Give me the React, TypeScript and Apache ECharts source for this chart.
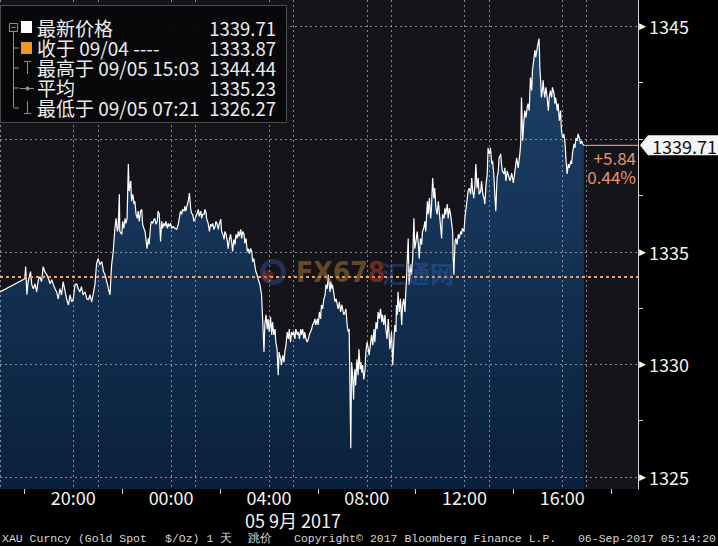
import React, { useEffect, useRef } from "react";
import * as echarts from "echarts";

// [minutes relative to 05 Sep 00:00, price]
const goldTicks: [number, number][] = [
[-420,1333.21],[-359,1333.79],[-357,1334.33],[-354,1333.08],[-351,1333.66],[-345,1334.11],[-342,1333.53],[-338,1333.35],[-334,1333.57],[-330,1333.21],
[-326,1333.75],[-322,1333.88],[-318,1333.66],[-314,1334.33],[-310,1334.11],[-305,1333.97],[-301,1333.79],[-297,1333.57],[-293,1333.75],[-289,1333.53],
[-285,1333.35],[-281,1333.21],[-277,1332.90],[-273,1333.35],[-269,1333.08],[-265,1333.66],[-260,1333.21],[-256,1332.86],[-252,1332.63],[-248,1333.08],
[-244,1332.77],[-240,1332.90],[-236,1333.53],[-232,1333.57],[-228,1333.35],[-224,1333.21],[-220,1333.44],[-216,1333.08],[-211,1333.21],[-207,1332.90],
[-203,1332.86],[-199,1333.08],[-195,1332.77],[-191,1333.13],[-187,1333.53],[-183,1334.46],[-179,1334.69],[-175,1334.42],[-170,1334.55],[-166,1334.11],
[-162,1333.97],[-158,1333.66],[-154,1333.35],[-150,1333.08],[-146,1334.42],[-142,1335.00],[-138,1336.03],[-135,1336.47],[-132,1335.89],[-130,1336.03],
[-127,1337.54],[-126,1335.89],[-121,1335.76],[-119,1336.34],[-116,1336.03],[-113,1336.47],[-111,1336.25],[-108,1336.47],[-105,1338.88],[-103,1337.68],
[-99,1338.13],[-97,1337.23],[-94,1337.54],[-91,1337.10],[-89,1337.23],[-86,1336.65],[-83,1336.47],[-81,1336.79],[-78,1336.34],[-75,1336.79],
[-72,1336.87],[-70,1336.21],[-67,1336.03],[-64,1335.89],[-62,1335.58],[-59,1335.13],[-56,1335.58],[-54,1335.31],[-50,1336.21],[-48,1336.34],
[-45,1336.25],[-42,1336.43],[-40,1336.47],[-37,1336.21],[-34,1336.34],[-32,1336.79],[-29,1336.65],[-26,1335.45],[-23,1336.34],[-21,1336.03],
[-18,1336.25],[-15,1336.12],[-13,1336.34],[-9,1336.03],[-7,1336.25],[-5,1336.12],[-1,1336.25],[1,1336.03],[5,1336.12],[9,1336.03],
[14,1335.98],[18,1336.25],[20,1336.47],[23,1336.79],[26,1336.65],[28,1336.87],[32,1336.79],[34,1337.01],[36,1336.79],[40,1337.10],
[42,1337.23],[45,1337.59],[48,1336.92],[50,1336.70],[53,1336.65],[56,1336.34],[59,1336.47],[61,1336.56],[64,1336.70],[67,1336.87],
[69,1336.56],[73,1336.79],[75,1336.47],[77,1336.65],[81,1336.65],[83,1336.87],[86,1336.70],[87,1336.47],[91,1336.25],[94,1335.89],
[97,1336.21],[100,1336.12],[102,1336.25],[105,1335.98],[108,1336.12],[110,1336.34],[113,1336.21],[116,1335.98],[118,1336.21],[122,1336.43],
[124,1335.89],[127,1335.76],[130,1335.54],[132,1335.89],[135,1335.76],[138,1335.45],[140,1335.13],[143,1335.54],[146,1335.76],[149,1335.36],
[151,1335.00],[154,1335.54],[157,1335.31],[159,1335.76],[162,1335.58],[165,1335.89],[167,1335.67],[171,1335.98],[173,1335.58],[176,1335.89],
[179,1335.76],[181,1335.36],[184,1335.58],[187,1335.00],[189,1335.13],[192,1334.91],[195,1335.13],[198,1335.00],[200,1334.55],[203,1334.69],
[206,1334.33],[208,1334.11],[211,1333.97],[214,1333.75],[218,1333.53],[222,1333.08],[226,1331.43],[228,1330.54],[230,1331.74],[233,1332.19],
[236,1331.56],[238,1332.01],[241,1331.43],[244,1332.10],[247,1331.30],[249,1331.87],[252,1331.30],[255,1331.56],[257,1330.98],[260,1330.67],
[263,1329.51],[265,1330.54],[269,1330.22],[271,1329.96],[274,1330.40],[277,1330.09],[279,1330.54],[282,1330.85],[285,1331.43],[288,1331.12],
[290,1331.56],[293,1330.98],[296,1331.43],[298,1331.30],[301,1331.43],[304,1331.12],[306,1331.56],[310,1331.30],[312,1331.43],[315,1331.12],
[318,1331.56],[320,1331.30],[323,1331.56],[326,1331.12],[328,1331.43],[331,1331.12],[334,1330.98],[337,1331.12],[339,1331.30],[342,1331.43],
[345,1331.56],[347,1331.74],[351,1331.87],[353,1332.01],[355,1331.74],[359,1332.01],[361,1331.74],[364,1332.32],[367,1332.01],[369,1332.63],
[372,1332.46],[375,1332.90],[378,1333.08],[380,1333.53],[383,1333.35],[386,1333.97],[388,1333.53],[390,1333.21],[392,1333.66],[394,1333.35],
[396,1333.53],[400,1333.08],[402,1332.77],[405,1332.90],[408,1332.63],[410,1332.46],[413,1332.77],[416,1332.32],[419,1332.63],[421,1332.46],
[424,1332.19],[427,1332.32],[429,1332.46],[432,1331.74],[435,1331.43],[437,1331.56],[441,1326.27],[443,1330.09],[445,1329.64],[448,1328.44],
[449,1329.20],[451,1329.78],[453,1329.06],[456,1330.22],[459,1329.51],[461,1330.67],[464,1329.78],[466,1330.09],[468,1329.64],[470,1329.96],
[473,1329.33],[476,1329.78],[478,1330.54],[481,1330.98],[484,1330.67],[486,1330.40],[490,1330.98],[492,1331.30],[495,1330.85],[498,1331.56],
[500,1330.98],[503,1331.87],[506,1331.56],[508,1332.32],[511,1332.01],[514,1332.46],[517,1331.87],[519,1332.19],[522,1331.74],[525,1332.19],
[527,1331.56],[530,1331.12],[533,1332.01],[537,1330.67],[541,1331.43],[544,1329.96],[547,1331.12],[549,1331.74],[552,1331.43],[553,1332.63],
[555,1332.19],[557,1333.21],[560,1332.32],[563,1332.90],[566,1331.74],[568,1332.63],[571,1332.90],[574,1332.32],[576,1333.21],[578,1333.80],
[579,1334.42],[582,1335.58],[584,1333.53],[588,1334.42],[590,1333.97],[593,1334.69],[596,1336.47],[598,1335.13],[601,1335.45],[604,1335.89],
[607,1335.31],[609,1334.69],[612,1335.58],[615,1335.31],[617,1335.89],[620,1336.03],[623,1336.34],[625,1335.89],[629,1337.23],[631,1336.65],
[634,1337.37],[637,1336.47],[639,1336.92],[642,1338.26],[645,1337.37],[647,1337.81],[650,1336.92],[653,1336.65],[656,1337.23],[658,1336.79],
[661,1336.21],[664,1335.58],[666,1336.65],[670,1336.47],[672,1336.92],[674,1336.65],[678,1337.10],[680,1336.47],[683,1336.92],[686,1336.65],
[688,1336.34],[691,1335.89],[692,1334.87],[694,1333.97],[697,1335.45],[699,1335.58],[702,1335.31],[705,1335.76],[707,1335.58],[711,1335.89],
[713,1335.76],[715,1336.03],[719,1335.89],[721,1336.47],[724,1336.92],[727,1337.37],[729,1337.68],[732,1337.81],[735,1337.54],[738,1338.26],
[740,1337.68],[743,1337.37],[746,1337.99],[748,1338.88],[751,1337.81],[754,1338.26],[756,1337.54],[760,1337.68],[762,1338.13],[765,1337.54],
[768,1337.37],[770,1337.10],[773,1337.99],[776,1338.44],[778,1339.60],[781,1339.33],[784,1339.60],[787,1338.88],[789,1339.02],[792,1338.44],
[795,1337.37],[797,1336.79],[800,1338.26],[803,1338.57],[805,1339.15],[809,1339.33],[811,1338.88],[813,1338.57],[817,1338.44],[819,1338.71],
[822,1338.13],[825,1338.57],[827,1338.44],[832,1338.13],[836,1338.48],[840,1338.04],[844,1338.57],[848,1339.15],[852,1338.71],[856,1339.33],
[858,1339.78],[860,1341.83],[863,1339.91],[866,1340.80],[868,1341.25],[871,1340.94],[874,1341.38],[876,1341.56],[879,1341.25],[882,1342.72],
[885,1342.14],[887,1343.04],[890,1343.48],[893,1343.93],[895,1343.62],[899,1344.06],[903,1344.44],[904,1343.93],[905,1343.17],[907,1342.59],
[909,1341.83],[912,1342.28],[913,1342.59],[915,1342.14],[917,1341.83],[920,1342.28],[923,1341.83],[926,1341.25],[928,1341.83],[931,1342.14],
[934,1341.83],[936,1342.28],[940,1342.01],[942,1341.56],[944,1341.83],[948,1341.25],[950,1341.56],[953,1340.80],[956,1341.25],[958,1340.36],
[961,1340.04],[964,1340.22],[967,1339.78],[969,1339.15],[972,1338.44],[975,1338.88],[977,1338.71],[981,1339.02],[983,1338.88],[985,1339.33],
[989,1339.78],[991,1339.60],[994,1340.04],[997,1339.91],[999,1340.22],[1002,1340.04],[1005,1339.78],[1008,1339.91],[1010,1339.78],[1013,1339.71]
];

const prevClose = 1333.87;
const legendLabels = ["最新价格", "收于 09/04 ----", "最高于 09/05 15:03", "平均", "最低于 09/05 07:21"];
const legendValues = ["1339.71", "1333.87", "1344.44", "1335.23", "1326.27"];
const xLabelMinutes = [-240, 0, 240, 480, 720, 960];
const xGridMinutes = [-240, 0, 240, 480, 720, 960];
const xTickMinutes = [-360, -120, 120, 360, 600, 840, 1080];
const yGridValues = [1325, 1330, 1335, 1340, 1345];
const yLabelValues = [1325, 1330, 1335, 1345];
const yTickValues = [1327.5, 1332.5, 1337.5, 1340, 1342.5];
const dateLabel = "05 9月 2017";
const footerTexts = ["XAU Curncy (Gold Spot", "$/Oz) 1 天", "跳价", "Copyright© 2017 Bloomberg Finance L.P.", "06-Sep-2017 05:14:20"];

const X_MIN = -420;
const X_MAX = 1146;
const X_GRID_STEP = 240;
const Y_MIN = 1324.467;
const Y_MAX = 1346.156;
const GRID_BOTTOM = 57;

const FONT = "'Noto Sans CJK SC', 'Noto Sans', sans-serif";
const GRID_COLOR = "rgba(210,210,220,0.6)";

function hhmm(m: number) {
  const h = (((Math.round(m / 60)) % 24) + 24) % 24;
  return (h < 10 ? "0" : "") + h + ":00";
}

function refLine(data: [number, number][], lineStyle: any) {
  return { type: "line", data, symbol: "none", showSymbol: false, silent: true, z: 3, lineStyle };
}

export default function App() {
  const ref = useRef<HTMLDivElement>(null);
  useEffect(() => {
    const chart = echarts.init(ref.current!, undefined, { renderer: "svg" });
    const last = goldTicks[goldTicks.length - 1];
    const lastT = last[0];
    const lastP = last[1];
    chart.setOption({
      animation: false,
      backgroundColor: "#000",
      grid: { left: 0, top: 0, right: 80, bottom: GRID_BOTTOM, show: true, backgroundColor: "#15141a", borderWidth: 0 },
      xAxis: [
        {
          type: "value",
          min: X_MIN,
          max: X_MAX,
          splitLine: { show: false },
          axisLine: { show: false, onZero: false },
          axisTick: { show: true, customValues: xTickMinutes.slice(), length: 5, lineStyle: { color: "#cfcfcf" } },
          axisLabel: {
            customValues: xLabelMinutes.slice(),
            formatter: (v: number) => hhmm(v),
            color: "#f2f2f2",
            fontSize: 18,
            lineHeight: 16,
            fontFamily: FONT,
            margin: 0,
          },
        },
        {
          // helper axis that only draws the vertical dashed grid lines every 4 hours
          type: "value",
          position: "top",
          min: X_MIN,
          max: X_MAX,
          interval: X_GRID_STEP,
          z: 5,
          axisLine: { show: false, onZero: false },
          axisTick: { show: false },
          axisLabel: { show: false },
          splitLine: { show: true, lineStyle: { color: GRID_COLOR, width: 1, type: [2, 3] } },
        },
      ],
      yAxis: {
        type: "value",
        position: "right",
        min: Y_MIN,
        max: Y_MAX,
        splitLine: { show: false },
        axisLine: { show: true, onZero: false, lineStyle: { color: "#d8d8d8", width: 1 } },
        axisTick: { show: true, customValues: yTickValues.slice(), length: 5, lineStyle: { color: "#d8d8d8" } },
        axisLabel: {
          customValues: yLabelValues.slice(),
          margin: 1,
          formatter: (v: number) => "{t|▶}{v|" + v + "}",
          rich: {
            t: { fontSize: 9, color: "#f2f2f2", fontFamily: "DejaVu Sans" },
            v: { fontSize: 18, color: "#f2f2f2", fontFamily: FONT, padding: [0, 0, 0, 3] },
          },
        },
      },
      series: [
        {
          type: "line",
          data: goldTicks,
          symbol: "none",
          showSymbol: false,
          z: 2,
          lineStyle: { color: "#ffffff", width: 1.2 },
          areaStyle: {
            origin: "start",
            opacity: 1,
            color: new echarts.graphic.LinearGradient(0, 0, 0, 1, [
              { offset: 0, color: "#1d4169" },
              { offset: 1, color: "#0a213d" },
            ]),
          },
        },
        refLine([[X_MIN, prevClose], [X_MAX, prevClose]], { color: "#e2a470", width: 2, type: [3, 3] }),
        refLine([[lastT, lastP], [X_MAX, lastP]], { color: "#eab48c", width: 1, type: "solid" }),
      ],
    });

    const pyv = (v: number) => Number(chart.convertToPixel({ yAxisIndex: 0 }, v));
    const pxStart = Number(chart.convertToPixel({ xAxisIndex: 0 }, X_MIN));
    const pxEnd = Number(chart.convertToPixel({ xAxisIndex: 0 }, X_MAX));
    const px = (t: number) => {
      const v = Number(chart.convertToPixel({ xAxisIndex: 0 }, t));
      return isFinite(v) ? v : pxStart + ((t - X_MIN) / (X_MAX - X_MIN)) * (pxEnd - pxStart);
    };
    const py = pyv(lastP);
    const gridTop = 0;
    const gridBottom = chart.getHeight() - GRID_BOTTOM;
    const change = lastP - prevClose;
    const pct = (change / prevClose) * 100;

    const gridStyle = { stroke: GRID_COLOR, lineWidth: 1, lineDash: [2, 3] };
    const gridEls: any[] = [
      ...yGridValues.map((v) => {
        const y = Math.round(pyv(v)) + 0.5;
        return { type: "line", z: 50, silent: true, shape: { x1: pxStart, y1: y, x2: pxEnd, y2: y }, style: gridStyle };
      }),
    ];
    xGridMinutes.forEach((m) => {
      const x = Math.round(px(m));
      for (let y = gridTop; y < gridBottom; y += 5) {
        gridEls.push({ type: "rect", z: 50, silent: true, shape: { x: x, y: y, width: 1, height: 2 }, style: { fill: GRID_COLOR } });
      }
    });

    const grey = "#8e8e8e";
    const rowY = (i: number) => 27.5 + i * 20;
    const Z = 100;
    const legendEls: any[] = [
      { type: "rect", z: Z, shape: { x: 0.5, y: 5.5, width: 286, height: 117 }, style: { fill: "rgba(8,8,10,0.97)", stroke: "#4c4c4c", lineWidth: 1 } },
      { type: "line", z: Z, shape: { x1: 13.5, y1: 31, x2: 13.5, y2: rowY(4) }, style: { stroke: grey, lineWidth: 1 } },
      { type: "rect", z: Z, shape: { x: 9.5, y: 23.5, width: 8, height: 8 }, style: { fill: "#0a0a0c", stroke: grey, lineWidth: 1 } },
      { type: "line", z: Z, shape: { x1: 11.5, y1: 27.5, x2: 15.5, y2: 27.5 }, style: { stroke: grey, lineWidth: 1 } },
      ...[1, 2, 3, 4].map((i) => ({ type: "line", z: Z, shape: { x1: 13.5, y1: rowY(i) + 0.5, x2: 19, y2: rowY(i) + 0.5 }, style: { stroke: grey, lineWidth: 1 } })),
      { type: "rect", z: Z, shape: { x: 21, y: 21, width: 11, height: 12 }, style: { fill: "#ffffff" } },
      { type: "rect", z: Z, shape: { x: 21, y: 42, width: 11, height: 12 }, style: { fill: "#f2961e" } },
      { type: "line", z: Z, shape: { x1: 27.5, y1: 61, x2: 27.5, y2: 74 }, style: { stroke: grey, lineWidth: 1 } },
      { type: "line", z: Z, shape: { x1: 24, y1: 61.5, x2: 31, y2: 61.5 }, style: { stroke: grey, lineWidth: 1 } },
      { type: "line", z: Z, shape: { x1: 20, y1: 88.5, x2: 34, y2: 88.5 }, style: { stroke: grey, lineWidth: 1 } },
      { type: "circle", z: Z, shape: { cx: 27.5, cy: 88.5, r: 2 }, style: { fill: grey } },
      { type: "line", z: Z, shape: { x1: 27.5, y1: 101, x2: 27.5, y2: 114 }, style: { stroke: grey, lineWidth: 1 } },
      { type: "line", z: Z, shape: { x1: 24, y1: 113.5, x2: 31, y2: 113.5 }, style: { stroke: grey, lineWidth: 1 } },
      ...legendLabels.map((t, i) => ({
        type: "text",
        z: Z,
        style: { text: t, x: 37, y: rowY(i), fill: "#ededed", fontSize: 19, lineHeight: 18, fontFamily: FONT, textVerticalAlign: "middle" },
      })),
      ...legendValues.map((t, i) => ({
        type: "text",
        z: Z,
        style: { text: t, x: 276, y: rowY(i), fill: "#ededed", fontSize: 18.5, lineHeight: 18, fontFamily: FONT, textAlign: "right", textVerticalAlign: "middle" },
      })),
    ];

    const wmFont = "'Liberation Sans Narrow', 'DejaVu Sans Condensed', sans-serif";
    const watermark: any[] = [
      { type: "ring", z: 40, silent: true, shape: { cx: 273, cy: 272, r: 13, r0: 8 }, style: { fill: "rgba(60,90,170,0.4)" } },
      { type: "circle", z: 40, silent: true, shape: { cx: 268, cy: 276, r: 6 }, style: { fill: "rgba(200,80,50,0.3)" } },
      {
        type: "text",
        z: 40,
        silent: true,
        style: {
          text: "{a|FX67}{b|8}",
          x: 296,
          y: 272,
          textVerticalAlign: "middle",
          rich: {
            a: { fill: "rgba(175,125,45,0.5)", fontSize: 28, fontWeight: "bold", fontFamily: wmFont },
            b: { fill: "rgba(195,65,40,0.5)", fontSize: 28, fontWeight: "bold", fontFamily: wmFont },
          },
        },
      },
      { type: "text", z: 40, silent: true, style: { text: "汇通网", x: 382, y: 272, fill: "rgba(60,110,200,0.35)", fontSize: 24, fontWeight: "bold", fontFamily: FONT, textVerticalAlign: "middle" } },
    ];

    const tag: any[] = [
      {
        type: "polygon",
        z: Z,
        shape: { points: [[pxEnd + 2, py], [pxEnd + 10, py - 10], [718, py - 10], [718, py + 10], [pxEnd + 10, py + 10]] },
        style: { fill: "#f5f5f5" },
      },
      { type: "text", z: Z, style: { text: lastP.toFixed(2), x: 652, y: py + 0.5, fill: "#111", fontSize: 18, fontFamily: FONT, textVerticalAlign: "middle" } },
      { type: "text", z: Z, style: { text: "+" + change.toFixed(2), x: pxEnd - 2, y: py + 12, fill: "#e0966a", fontSize: 17, lineHeight: 17, fontFamily: FONT, textAlign: "right", textVerticalAlign: "middle" } },
      { type: "text", z: Z, style: { text: pct.toFixed(2) + "%", x: pxEnd - 2, y: py + 31, fill: "#e0966a", fontSize: 17, lineHeight: 17, fontFamily: FONT, textAlign: "right", textVerticalAlign: "middle" } },
    ];

    const footerX = [2, 165, 248, 294];
    const footerFont = "'Liberation Mono', 'DejaVu Sans Mono', monospace";
    const footer: any[] = [
      { type: "text", z: Z, style: { text: dateLabel, x: 293, y: 520, fill: "#f2f2f2", fontSize: 18, lineHeight: 16, fontFamily: FONT, textAlign: "center", textVerticalAlign: "middle" } },
      ...footerX.map((x, i) => ({
        type: "text",
        z: Z,
        style: { text: footerTexts[i], x, y: 538, fill: "#d6d6d6", fontSize: 11.5, fontFamily: footerFont, textVerticalAlign: "middle" },
      })),
      { type: "text", z: Z, style: { text: footerTexts[4], x: 716, y: 538, fill: "#d6d6d6", fontSize: 11.5, fontFamily: footerFont, textAlign: "right", textVerticalAlign: "middle" } },
    ];

    chart.setOption({ graphic: [...gridEls, ...watermark, ...legendEls, ...tag, ...footer] });
    return () => chart.dispose();
  }, []);
  return <div ref={ref} style={{ position: "absolute", left: 0, top: 0, width: 718, height: 546, background: "#000" }} />;
}
